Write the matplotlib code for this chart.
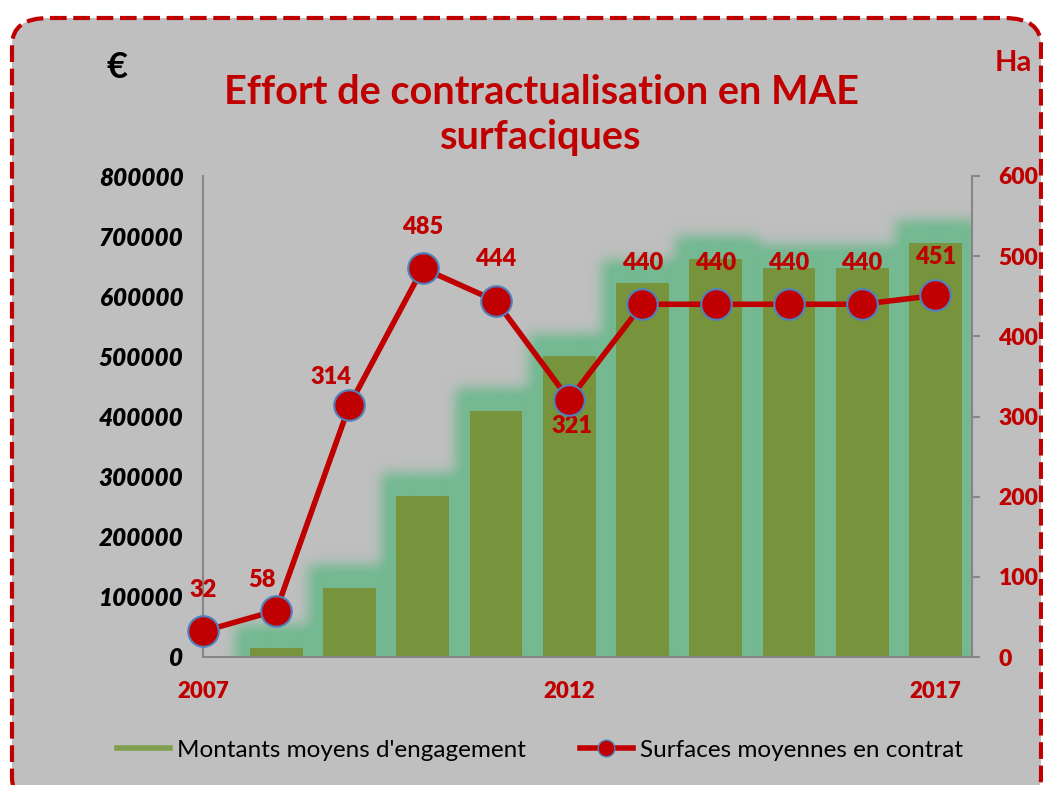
import numpy as np
import matplotlib
matplotlib.use('Agg')
import matplotlib.pyplot as plt
from matplotlib.patches import FancyBboxPatch
from matplotlib.lines import Line2D
from matplotlib.colors import to_rgb

years = [2007, 2008, 2009, 2010, 2011, 2012, 2013, 2014, 2015, 2016, 2017]
montants = [0, 15000, 115000, 268000, 409000, 500000, 622000, 662000, 647000, 647000, 689000]
surfaces = [32, 58, 314, 485, 444, 321, 440, 440, 440, 440, 451]
year_ticks = [2007, 2012, 2017]
# label offsets in points (dx, dy)
label_off = [(0, 30), (-10, 22), (-13, 20), (0, 30), (0, 30), (2, -19), (0, 30), (0, 30), (0, 30), (0, 30), (0, 28)]

RED = '#C00000'
BAR = '#77933C'
GLOW = '#74B992'
BG = '#BFBFBF'
NUMW = 'heavy'

plt.rcParams['font.family'] = ['Lato', 'DejaVu Sans']

fig = plt.figure(figsize=(10.43, 7.85), dpi=100)
fig.patch.set_facecolor('white')

# rounded dashed frame
frame = FancyBboxPatch((12 / 1043, 1 - 805 / 785), 1029 / 1043, 787 / 785,
                       boxstyle='round,pad=0,rounding_size=0.035',
                       transform=fig.transFigure, facecolor=BG, edgecolor=RED,
                       lw=3, ls=(0, (4, 1.6)), zorder=-10)
fig.patches.append(frame)

ax = fig.add_axes([203 / 1043, 1 - 657 / 785, 769 / 1043, 481 / 785])
ax.set_facecolor('none')
x = np.arange(len(years))

# soft glow around bars: expanded mask, gaussian blurred
w = 0.72
px_x = 1 / 73.2
px_y = 800000 / 481
gx0, gx1 = -0.8, 11.4
gy0, gy1 = -80000, 800000
gxs = np.arange(gx0, gx1, px_x)
gys = np.arange(gy0, gy1, px_y)
mask = np.zeros((len(gys), len(gxs)))
for i, h in enumerate(montants):
    if h <= 0:
        continue
    mx = np.abs(gxs - x[i]) <= w / 2 + 15 * px_x
    my = gys <= h + 22 * px_y
    mask[np.ix_(my, mx)] = 1
k = np.arange(-20, 21)
kern = np.exp(-k ** 2 / (2 * 6.5 ** 2))
kern /= kern.sum()
mask = np.apply_along_axis(lambda r: np.convolve(r, kern, mode='same'), 1, mask)
mask = np.apply_along_axis(lambda c: np.convolve(c, kern, mode='same'), 0, mask)
rgba = np.zeros(mask.shape + (4,))
rgba[..., :3] = to_rgb(GLOW)
rgba[..., 3] = np.clip(mask * 1.1, 0, 1)
ax.imshow(rgba, extent=(gx0, gx0 + len(gxs) * px_x, gy0, gy0 + len(gys) * px_y),
          origin='lower', aspect='auto', interpolation='bilinear', zorder=1)
ax.set_xlim(0, 10.5)
ax.set_ylim(0, 800000)

ax.bar(x, montants, width=w, color=BAR, zorder=2)

ax.spines['top'].set_visible(False)
ax.spines['right'].set_visible(False)
for s in ['left', 'bottom']:
    ax.spines[s].set_color('#868686')
    ax.spines[s].set_linewidth(1.5)
    ax.spines[s].set_zorder(3)
ax.set_yticks(np.arange(0, 800001, 100000))
ax.set_yticklabels([str(v) for v in range(0, 800001, 100000)],
                   fontsize=17.5, fontweight=NUMW, fontstyle='italic', color='black')
ax.tick_params(axis='y', length=0, pad=14)
ax.set_xticks([years.index(t) for t in year_ticks])
ax.set_xticklabels([str(t) for t in year_ticks], fontsize=16, fontweight=NUMW, color=RED)
ax.tick_params(axis='x', length=0, pad=17)

ax2 = ax.twinx()
ax2.set_ylim(0, 600)
ax2.set_xlim(0, 10.5)
for s in ['top', 'left', 'bottom']:
    ax2.spines[s].set_visible(False)
ax2.spines['right'].set_color('#868686')
ax2.spines['right'].set_linewidth(1.5)
ax2.set_yticks(np.arange(0, 601, 100))
ax2.set_yticklabels([str(v) for v in range(0, 601, 100)], fontsize=16.5, fontweight=NUMW, color=RED)
ax2.tick_params(axis='y', length=6, width=1.5, color='#868686', pad=13)

ax2.plot(x, surfaces, color=RED, lw=4, marker='o', ms=22, mfc=RED, mec='#4F81BD',
         mew=1.5, zorder=5, clip_on=False)
for i, v in enumerate(surfaces):
    dx, dy = label_off[i]
    ax2.annotate(str(v), (x[i], v), xytext=(dx, dy), textcoords='offset points',
                 ha='center', va='center', fontsize=17, fontweight=NUMW, color=RED)

fig.text(541 / 1043, 1 - 115 / 785, 'Effort de contractualisation en MAE\nsurfaciques',
         ha='center', va='center', fontsize=28.5, fontweight='bold', color=RED, linespacing=1.25)
fig.text(117 / 1043, 1 - 68 / 785, '€', ha='center', va='center', fontsize=26,
         fontweight='bold', color='black')
fig.text(1013 / 1043, 1 - 63 / 785, 'Ha', ha='center', va='center', fontsize=21,
         fontweight='bold', color=RED)

handles = [Line2D([], [], color='#7F9F4F', lw=4),
           Line2D([], [], color=RED, lw=4, marker='o', ms=12, mfc=RED, mec='#4F81BD', mew=1)]
fig.legend(handles, ['Montants moyens d\'engagement', 'Surfaces moyennes en contrat'],
           loc='center', bbox_to_anchor=(540 / 1043, 1 - 750 / 785), ncol=2, frameon=False,
           fontsize=17.5, handlelength=2.2, handletextpad=0.3, columnspacing=2.2)

fig.savefig('out.png', dpi=100, facecolor='white')
